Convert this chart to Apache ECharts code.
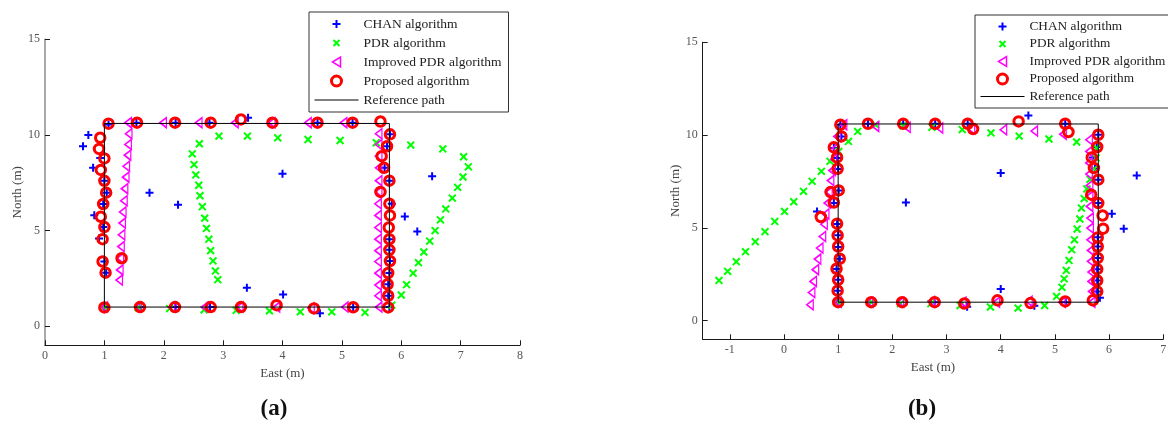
<!DOCTYPE html>
<html lang="en">
<head>
    <meta charset="UTF-8">
    <title>Trajectory comparison</title>
    <script src="https://cdn.jsdelivr.net/npm/echarts@6/dist/echarts.min.js"></script>
    <style>
        html, body { margin: 0; padding: 0; background: #fff; }
        #chart { width: 1168px; height: 426px; }
    </style>
</head>
<body>
    <div id="chart"></div>
    <script>
        // (a) estimated positions, metres [east, north]
        const chanA = [[1.0,1.0],[1.6,1.0],[2.2,1.0],[2.78,1.0],[4.63,0.67],[5.19,0.99],[5.8,1.0],
            [5.78,1.59],[5.78,2.19],[5.8,2.78],[5.81,3.41],[5.8,3.99],[5.8,4.55],[6.27,4.95],[6.06,5.74],[5.84,6.4],[5.8,7.61],[6.52,7.84],[5.72,8.28],[5.76,9.41],[5.81,10.03],
            [5.18,10.64],[4.59,10.64],[3.42,10.9],[2.77,10.64],[2.2,10.64],[1.54,10.64],[1.07,10.55],
            [0.73,10.0],[0.64,9.41],[0.93,8.8],[0.81,8.28],[1.0,7.6],[1.04,6.98],[0.98,6.39],[0.83,5.8],[0.98,5.18],[0.91,4.58],[1.0,3.38],[1.03,2.8],
            [1.76,6.97],[2.24,6.35],[3.4,2.01],[4.0,7.97],[4.01,1.66]];
        const pdrA = [[1.0,1.0],[1.57,0.97],[2.1,0.92],[2.68,0.86],[3.22,0.83],[3.78,0.8],[4.3,0.75],[4.83,0.75],[5.39,0.72],[5.84,1.1],
            [6.0,1.63],[6.09,2.17],[6.2,2.77],[6.29,3.32],[6.38,3.88],[6.48,4.45],[6.57,5.0],[6.66,5.56],[6.75,6.13],[6.86,6.7],[6.95,7.26],[7.04,7.8],[7.13,8.33],[7.05,8.86],
            [6.7,9.27],[6.16,9.47],[5.58,9.59],[4.97,9.71],[4.43,9.76],[3.92,9.85],[3.41,9.94],[2.93,9.94],
            [2.6,9.54],[2.48,9.01],[2.51,8.45],[2.54,7.91],[2.59,7.37],[2.61,6.82],[2.65,6.25],[2.69,5.65],[2.72,5.11],[2.76,4.55],[2.79,3.95],[2.83,3.41],[2.87,2.89],[2.91,2.43]];
        const impA = [[1.0,1.0],[1.57,1.0],[2.13,1.0],[2.69,1.0],[3.28,1.0],[3.9,1.0],[4.48,0.95],[5.05,1.0],[5.62,1.0],
            [5.61,1.59],[5.61,2.15],[5.61,2.77],[5.61,3.38],[5.61,3.95],[5.61,4.55],[5.61,5.16],[5.61,5.79],[5.61,6.4],[5.62,7.02],[5.62,7.61],[5.62,8.28],[5.62,8.89],[5.62,9.5],[5.62,10.06],
            [5.03,10.64],[4.43,10.64],[3.82,10.64],[3.2,10.64],[2.59,10.64],[1.99,10.64],[1.4,10.64],
            [1.41,10.06],[1.4,9.5],[1.39,8.94],[1.37,8.36],[1.36,7.79],[1.34,7.19],[1.33,6.56],[1.31,5.97],[1.3,5.39],[1.29,4.78],[1.28,4.16],[1.27,3.55],[1.26,2.94],[1.25,2.41]];
        const propA = [[1.0,0.98],[1.6,1.0],[2.19,1.0],[2.79,1.0],[3.3,1.0],[3.9,1.1],[4.53,0.93],[5.19,0.99],[5.78,0.98],
            [5.78,1.59],[5.77,2.19],[5.78,2.78],[5.81,3.41],[5.8,3.99],[5.8,4.55],[5.79,5.16],[5.81,5.79],[5.8,6.4],[5.65,7.02],[5.8,7.61],[5.71,8.28],[5.67,8.89],[5.76,9.41],[5.81,10.03],
            [5.65,10.7],[5.18,10.64],[4.59,10.64],[3.83,10.64],[3.3,10.81],[2.79,10.64],[2.19,10.64],[1.55,10.64],[1.07,10.59],
            [0.93,9.85],[0.91,9.27],[1.0,8.77],[0.94,8.17],[1.0,7.6],[1.03,6.98],[0.98,6.39],[0.94,5.72],[1.0,5.18],[0.97,4.55],[1.29,3.55],[0.97,3.38],[1.02,2.8]];

        // (b)
        const chanB = [[1.0,1.0],[2.78,1.0],[3.38,0.76],[4.62,0.81],[5.2,1.0],[5.83,1.24],
            [5.78,1.58],[5.78,2.17],[5.78,2.78],[5.79,3.38],[5.79,4.0],[5.79,4.5],[6.27,4.96],[6.05,5.77],[5.8,6.34],[5.8,7.6],[6.51,7.83],[5.74,8.2],[5.7,8.8],[5.77,9.36],[5.8,10.02],
            [5.19,10.61],[4.51,11.05],[3.39,10.61],[2.79,10.61],[2.2,10.61],[1.55,10.61],[1.04,10.56],
            [1.06,9.93],[0.92,9.3],[0.98,8.77],[1.0,8.17],[1.01,7.02],[0.92,6.34],[0.61,5.89],[0.98,5.21],[1.0,4.6],[1.0,3.97],[1.03,3.34],[0.97,2.79],[1.0,2.21],[0.99,1.62],
            [2.25,6.37],[4.0,7.96],[4.0,1.71]];
        const pdrB = [[1.0,1.0],[1.61,1.0],[2.15,0.92],[2.71,0.92],[3.25,0.82],[3.81,0.74],[4.32,0.68],[4.81,0.82],
            [5.03,1.31],[5.13,1.8],[5.17,2.26],[5.21,2.71],[5.26,3.25],[5.31,3.83],[5.36,4.36],[5.41,4.94],[5.46,5.48],[5.49,6.07],[5.54,6.58],[5.59,7.1],[5.65,7.62],[5.72,8.17],[5.76,8.77],[5.77,9.3],
            [5.4,9.63],[4.89,9.79],[4.34,9.95],[3.82,10.12],[3.29,10.3],[2.73,10.42],[2.2,10.5],[1.69,10.56],
            [1.36,10.2],[1.19,9.66],[1.01,9.12],[0.85,8.59],[0.69,8.05],[0.52,7.51],[0.36,6.97],[0.18,6.41],[0.01,5.89],[-0.17,5.35],[-0.35,4.8],[-0.53,4.26],[-0.71,3.72],[-0.88,3.18],[-1.04,2.66],[-1.2,2.17]];
        const impB = [[1.0,1.0],[1.58,1.0],[2.15,1.0],[2.72,1.04],[3.3,1.0],[3.92,1.0],[4.52,1.05],[5.13,1.0],[5.68,1.0],
            [5.68,1.58],[5.67,2.12],[5.67,2.62],[5.66,3.2],[5.66,3.79],[5.65,4.36],[5.65,4.99],[5.65,5.53],[5.64,6.16],[5.64,6.7],[5.64,7.29],[5.63,7.9],[5.63,8.5],[5.63,9.12],[5.63,9.75],
            [5.15,10.05],[4.62,10.22],[4.05,10.29],[3.46,10.33],[2.87,10.38],[2.27,10.42],[1.69,10.47],[1.1,10.56],
            [0.98,9.93],[0.95,9.3],[0.92,8.7],[0.89,8.1],[0.86,7.55],[0.83,6.93],[0.8,6.34],[0.77,5.75],[0.74,5.2],[0.71,4.54],[0.66,3.92],[0.62,3.32],[0.58,2.75],[0.54,2.12],[0.51,1.52],[0.48,0.86]];
        const propB = [[1.0,1.0],[1.61,1.0],[2.18,1.0],[2.78,1.0],[3.33,0.93],[3.94,1.1],[4.55,0.95],[5.19,1.04],[5.7,1.1],
            [5.78,1.58],[5.78,2.17],[5.78,2.78],[5.79,3.38],[5.79,4.0],[5.79,4.49],[5.89,4.96],[5.88,5.67],[5.8,6.34],[5.67,6.79],[5.8,7.6],[5.72,8.23],[5.68,8.8],[5.78,9.36],[5.8,10.02],
            [5.25,10.17],[5.19,10.61],[4.33,10.74],[3.49,10.33],[3.39,10.61],[2.79,10.61],[2.2,10.61],[1.55,10.61],[1.04,10.56],
            [1.06,9.93],[0.92,9.34],[0.98,8.8],[0.99,8.19],[1.01,7.02],[0.86,6.93],[0.92,6.37],[0.68,5.59],[0.98,5.23],[0.99,4.6],[1.0,4.0],[1.03,3.34],[0.97,2.8],[1.0,2.21],[0.99,1.62]];

        // reference rectangle, same in both panels
        const refPath = [[1,1],[5.8,1],[5.8,10.6],[1,10.6],[1,1]];

        const yTicks = [0, 5, 10, 15];
        const xTicksA = [0, 1, 2, 3, 4, 5, 6, 7, 8];
        const xTicksB = [-1, 0, 1, 2, 3, 4, 5, 6, 7];
        const names = ['CHAN algorithm', 'PDR algorithm', 'Improved PDR algorithm', 'Proposed algorithm', 'Reference path'];

        const serif = '"Liberation Serif", "DejaVu Serif", serif';
        const plusSym = 'path://M0,0M10,10M1,5L9,5M5,1L5,9';
        const crossSym = 'path://M0,0M10,10M2,2L8,8M8,2L2,8';
        const triSym = 'path://M0,5L8,0L8,10Z';
        const clear = 'rgba(0,0,0,0)';

        const chart = echarts.init(document.getElementById('chart'));

        function xAxisOf(idx, min, max, ticks) {
            return {
                type: 'value', gridIndex: idx, min: min, max: max,
                name: 'East (m)', nameLocation: 'middle', nameGap: 21,
                nameTextStyle: { fontFamily: serif, fontSize: 13, color: '#444' },
                axisLine: { show: true, onZero: false, lineStyle: { color: '#1a1a1a', width: 1 } },
                axisTick: { show: true, inside: true, length: 5, customValues: ticks, lineStyle: { color: '#1a1a1a' } },
                axisLabel: { customValues: ticks, margin: 5, fontFamily: serif, fontSize: 12, color: '#555' },
                splitLine: { show: false }
            };
        }
        function yAxisOf(idx, color, width) {
            return {
                type: 'value', gridIndex: idx, min: -1, max: 15,
                name: 'North (m)', nameLocation: 'middle', nameGap: 21, nameRotate: 90,
                nameTextStyle: { fontFamily: serif, fontSize: 13, color: '#444' },
                axisLine: { show: true, onZero: false, lineStyle: { color: color, width: width } },
                axisTick: { show: true, inside: true, length: 5, customValues: yTicks, lineStyle: { color: '#1a1a1a' } },
                axisLabel: { customValues: yTicks, margin: 5, fontFamily: serif, fontSize: 12, color: '#555' },
                splitLine: { show: false }
            };
        }
        function panelSeries(idx, chan, pdr, imp, prop) {
            const base = { type: 'scatter', xAxisIndex: idx, yAxisIndex: idx, silent: true };
            return [
                Object.assign({}, base, { name: names[0], data: chan, symbol: plusSym, symbolSize: 10,
                    itemStyle: { color: clear, borderColor: '#0000ff', borderWidth: 2, opacity: 1 } }),
                Object.assign({}, base, { name: names[1], data: pdr, symbol: crossSym, symbolSize: 11.5,
                    itemStyle: { color: clear, borderColor: '#00ff00', borderWidth: 2, opacity: 1 } }),
                Object.assign({}, base, { name: names[2], data: imp, symbol: triSym, symbolSize: [6.5, 10],
                    itemStyle: { color: clear, borderColor: '#ff00ff', borderWidth: 1.5, opacity: 1 } }),
                Object.assign({}, base, { name: names[3], data: prop, symbol: 'circle', symbolSize: 9.5,
                    itemStyle: { color: clear, borderColor: '#ff0000', borderWidth: 3, opacity: 1 } }),
                { type: 'line', name: names[4], xAxisIndex: idx, yAxisIndex: idx, data: refPath, silent: true,
                    symbol: 'none', lineStyle: { color: '#000', width: 1 }, itemStyle: { color: '#000' } }
            ];
        }
        function legendOf(left, top, gap, fontSize) {
            return {
                orient: 'vertical', left: left, top: top, padding: [5, 7, 5, 5],
                itemWidth: 44, itemHeight: 10, itemGap: gap,
                backgroundColor: '#fff', borderColor: '#333', borderWidth: 1, borderRadius: 0,
                textStyle: { fontFamily: serif, fontSize: fontSize, color: '#222' },
                data: [
                    { name: names[0], itemStyle: { borderWidth: 2 } },
                    { name: names[1], itemStyle: { borderWidth: 2 } },
                    { name: names[2], itemStyle: { borderWidth: 1.5 } },
                    { name: names[3], itemStyle: { borderWidth: 3 } },
                    { name: names[4], itemStyle: { color: clear, borderWidth: 0, opacity: 0 }, lineStyle: { width: 1, color: '#000' } }
                ]
            };
        }

        const option = {
            animation: false,
            backgroundColor: '#fff',
            title: [
                { text: '(a)', left: 269, top: 393, textAlign: 'center', textStyle: { fontFamily: serif, fontWeight: 'bold', fontSize: 23, color: '#111' } },
                { text: '(b)', left: 917, top: 393, textAlign: 'center', textStyle: { fontFamily: serif, fontWeight: 'bold', fontSize: 23, color: '#111' } }
            ],
            legend: [legendOf(309, 12, 5.0, 13.5), legendOf(975, 15, 4.5, 13.3)],
            grid: [
                { left: 45, top: 39.3, width: 475, height: 306, containLabel: false, outerBoundsMode: 'none' },
                { left: 702.7, top: 42.3, width: 460.6, height: 297, containLabel: false, outerBoundsMode: 'none' }
            ],
            xAxis: [xAxisOf(0, 0, 8, xTicksA), xAxisOf(1, -1.5, 7, xTicksB)],
            yAxis: [yAxisOf(0, '#8c8c8c', 1.5), yAxisOf(1, '#1a1a1a', 1)],
            series: panelSeries(0, chanA, pdrA, impA, propA).concat(panelSeries(1, chanB, pdrB, impB, propB))
        };

        chart.setOption(option);
    </script>
</body>
</html>
